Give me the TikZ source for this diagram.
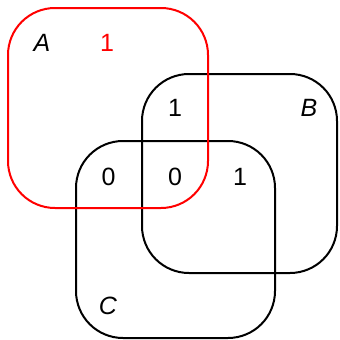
\documentclass[tikz,border=0pt]{standalone}
\usepackage{fontspec}
\setmainfont{Liberation Sans}
\tikzset{
  setbox/.style={line width=2pt, rounded corners=47pt},
  lab/.style={font=\fontsize{25}{29}\selectfont, inner sep=0pt},
  setlab/.style={lab, font=\fontsize{25}{29}\selectfont\itshape}
}
\begin{document}
\begin{tikzpicture}[x=1pt,y=-1pt]
\useasboundingbox (0,0) rectangle (340,340);
\draw[setbox, black] (142,74) rectangle (337,273);
\draw[setbox, black] (76,141) rectangle (275,338);
\draw[setbox, red] (8,8) rectangle (208,208);
\node[setlab] (A) at (42,43) {A};
\node[lab, red] (a1) at (107,43) {1};
\node[lab] (ab) at (175,108) {1};
\node[setlab] (B) at (309,108) {B};
\node[lab] (ac) at (108.5,176.5) {0};
\node[lab] (abc) at (175,176.5) {0};
\node[lab] (bc) at (240,176.5) {1};
\node[setlab] (C) at (108,306) {C};
\end{tikzpicture}
\end{document}
